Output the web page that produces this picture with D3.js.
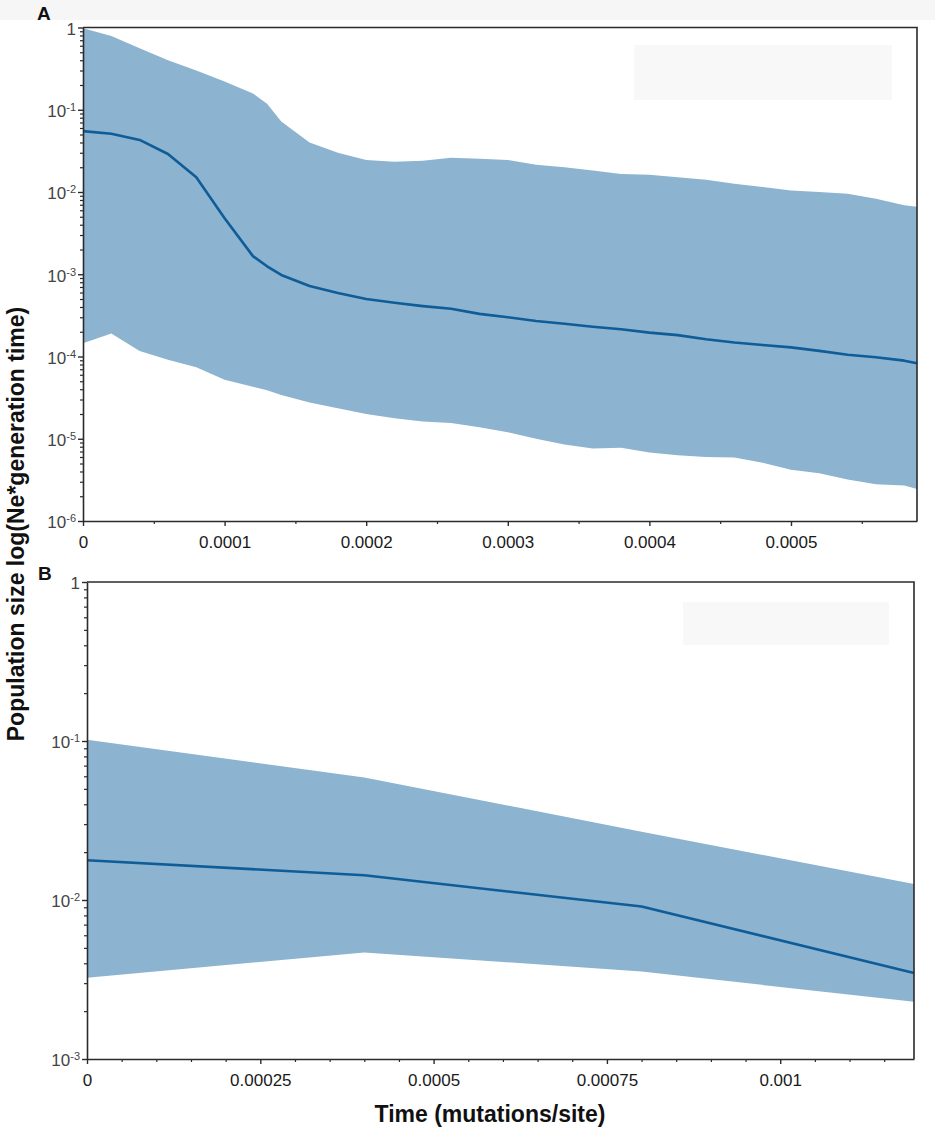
<!DOCTYPE html>
<html>
<head>
<meta charset="utf-8">
<script src="https://cdn.jsdelivr.net/npm/d3@7"></script>
<style>
  body { margin: 0; background: #fff; }
  svg { display: block; font-family: "Liberation Sans", Arial, Helvetica, sans-serif; }
</style>
</head>
<body>
<svg id="chart" width="935" height="1134"></svg>
<script>
// ---- panel A data (time in mutations/site, population size) ----
var timeA = [0, 0.00002, 0.00004, 0.00006, 0.00008, 0.0001, 0.00012, 0.00013, 0.00014, 0.00016, 0.00018,
	0.0002, 0.00022, 0.00024, 0.00026, 0.00028, 0.0003, 0.00032, 0.00034, 0.00036, 0.00038,
	0.0004, 0.00042, 0.00044, 0.00046, 0.00048, 0.0005, 0.00052, 0.00054, 0.00056, 0.00058, 0.000589];
var upperA = [0.98, 0.79, 0.56, 0.40, 0.30, 0.22, 0.158, 0.118, 0.072, 0.040, 0.030,
	0.0245, 0.0234, 0.024, 0.026, 0.0254, 0.0245, 0.0214, 0.020, 0.0182, 0.0166,
	0.0162, 0.0151, 0.0141, 0.0126, 0.0115, 0.0104, 0.0100, 0.0095, 0.0083, 0.0069, 0.0066];
var medianA = [0.055, 0.051, 0.043, 0.029, 0.0151, 0.0048, 0.00166, 0.00125, 0.00098, 0.00072, 0.00059,
	0.00050, 0.00045, 0.00041, 0.00038, 0.00033, 0.00030, 0.00027, 0.00025, 0.00023, 0.000214,
	0.000195, 0.000182, 0.000162, 0.000148, 0.000138, 0.000129, 0.000117, 0.000105, 0.000098, 0.000089, 0.000083];
var lowerA = [1.45e-4, 1.9e-4, 1.17e-4, 9.1e-5, 7.4e-5, 5.2e-5, 4.3e-5, 3.9e-5, 3.4e-5, 2.75e-5, 2.35e-5,
	2.0e-5, 1.78e-5, 1.62e-5, 1.55e-5, 1.38e-5, 1.2e-5, 1.0e-5, 8.5e-6, 7.6e-6, 7.8e-6,
	6.8e-6, 6.3e-6, 6.0e-6, 5.9e-6, 5.1e-6, 4.2e-6, 3.8e-6, 3.2e-6, 2.8e-6, 2.7e-6, 2.45e-6];
var xTicksA = [0, 0.0001, 0.0002, 0.0003, 0.0004, 0.0005];
var yTicksA = [1e-6, 1e-5, 1e-4, 1e-3, 1e-2, 1e-1, 1];

// ---- panel B data ----
var timeB = [0, 0.0004, 0.0008, 0.001193];
var upperB = [0.102, 0.059, 0.0269, 0.0126];
var medianB = [0.0178, 0.0143, 0.0091, 0.00347];
var lowerB = [0.00324, 0.00468, 0.00355, 0.00229];
var xTicksB = [0, 0.00025, 0.0005, 0.00075, 0.001];
var yTicksB = [1e-3, 1e-2, 1e-1, 1];

var BAND = "#8cb3cf", LINE = "#0e5c98", AXIS = "#2b2b2b";

var svg = d3.select("#chart");

// faint grey strip across the top
svg.append("rect").attr("x", 0).attr("y", 0).attr("width", 935).attr("height", 20).attr("fill", "#f6f6f6");

function fmtTime(d) {
	return d === 0 ? "0" : String(+d.toFixed(6));
}

function minorLog(domain) {
	var out = [];
	for (var e = Math.round(Math.log10(domain[0])); e < Math.round(Math.log10(domain[1])); e++) {
		for (var m = 2; m <= 9; m++) out.push(m * Math.pow(10, e));
	}
	return out;
}

function drawPanel(p) {
	var x = d3.scaleLinear().domain(p.xDomain).range([p.left, p.right]);
	var y = d3.scaleLog().domain(p.yDomain).range([p.bottom, p.top]);
	var g = svg.append("g");

	// legend placeholder box (empty in the source figure)
	g.append("rect")
		.attr("x", p.legend[0]).attr("y", p.legend[1])
		.attr("width", p.legend[2]).attr("height", p.legend[3])
		.attr("fill", "#f8f8f8");

	var rows = p.time.map(function(t, i) {
		return {t: t, lo: p.lower[i], mid: p.median[i], hi: p.upper[i]};
	});

	// 95% HPD band
	g.append("path")
		.datum(rows)
		.attr("fill", BAND)
		.attr("d", d3.area()
			.x(function(d) { return x(d.t); })
			.y0(function(d) { return y(d.lo); })
			.y1(function(d) { return y(d.hi); }));

	// median
	g.append("path")
		.datum(rows)
		.attr("fill", "none")
		.attr("stroke", LINE)
		.attr("stroke-width", 2.6)
		.attr("stroke-linejoin", "round")
		.attr("d", d3.line()
			.x(function(d) { return x(d.t); })
			.y(function(d) { return y(d.mid); }));

	// frame (top and right)
	g.append("path")
		.attr("fill", "none").attr("stroke", AXIS).attr("stroke-width", 1.6)
		.attr("d", "M" + p.left + "," + p.top + "H" + p.right + "V" + p.bottom);

	// x axis
	var minorX = d3.range(0, p.xDomain[1] + 1e-12, 0.00005).filter(function(v) {
		return !p.xTicks.some(function(t) { return Math.abs(t - v) < 1e-9; });
	});
	g.append("g")
		.attr("transform", "translate(0," + p.bottom + ")")
		.call(d3.axisBottom(x).tickValues(minorX).tickSize(3).tickFormat(""))
		.call(function(a) { a.select(".domain").remove(); })
		.selectAll("line").attr("stroke", AXIS).attr("stroke-width", 1.2);
	var ax = g.append("g")
		.attr("transform", "translate(0," + p.bottom + ")")
		.call(d3.axisBottom(x).tickValues(p.xTicks).tickSize(5).tickSizeOuter(0).tickPadding(10).tickFormat(fmtTime));
	ax.select(".domain").attr("stroke", AXIS).attr("stroke-width", 1.6);
	ax.selectAll("line").attr("stroke", AXIS).attr("stroke-width", 1.4);
	ax.selectAll("text").attr("font-size", 17).attr("fill", "#1a1a1a");

	// y axis
	g.append("g")
		.attr("transform", "translate(" + p.left + ",0)")
		.call(d3.axisLeft(y).tickValues(minorLog(p.yDomain)).tickSize(3).tickFormat(""))
		.call(function(a) { a.select(".domain").remove(); })
		.selectAll("line").attr("stroke", AXIS).attr("stroke-width", 1.2);
	var ay = g.append("g")
		.attr("transform", "translate(" + p.left + ",0)")
		.call(d3.axisLeft(y).tickValues(p.yTicks).tickSize(5).tickSizeOuter(0).tickPadding(2).tickFormat(""));
	ay.select(".domain").attr("stroke", AXIS).attr("stroke-width", 1.6);
	ay.selectAll("line").attr("stroke", AXIS).attr("stroke-width", 1.4);
	ay.selectAll(".tick text")
		.attr("font-size", 17).attr("fill", "#444").attr("dy", "0.4em")
		.each(function(d) {
			var t = d3.select(this);
			var e = Math.round(Math.log10(d));
			if (e === 0) { t.text("1"); return; }
			t.text("10");
			t.append("tspan").attr("dy", "-0.55em").attr("font-size", 11).text(e);
		});

	// panel letter
	svg.append("text")
		.attr("x", p.letterPos[0]).attr("y", p.letterPos[1])
		.attr("font-size", 19).attr("font-weight", "bold").attr("fill", "#111")
		.text(p.letter);
}

drawPanel({
	letter: "A", letterPos: [37, 20],
	time: timeA, upper: upperA, median: medianA, lower: lowerA,
	xDomain: [0, 0.000589], yDomain: [1e-6, 1],
	xTicks: xTicksA, yTicks: yTicksA,
	left: 83, right: 917, top: 27.5, bottom: 521,
	legend: [634, 45, 258, 55]
});

drawPanel({
	letter: "B", letterPos: [38, 580],
	time: timeB, upper: upperB, median: medianB, lower: lowerB,
	xDomain: [0, 0.001193], yDomain: [1e-3, 1],
	xTicks: xTicksB, yTicks: yTicksB,
	left: 87, right: 914, top: 582, bottom: 1059,
	legend: [683, 602, 206, 43]
});

// shared axis titles
svg.append("text")
	.attr("transform", "translate(24,524) rotate(-90)")
	.attr("text-anchor", "middle")
	.attr("font-size", 23).attr("font-weight", "bold").attr("fill", "#111")
	.text("Population size log(Ne*generation time)");

svg.append("text")
	.attr("x", 490).attr("y", 1122)
	.attr("text-anchor", "middle")
	.attr("font-size", 23).attr("font-weight", "bold").attr("fill", "#111")
	.text("Time (mutations/site)");
</script>
</body>
</html>
